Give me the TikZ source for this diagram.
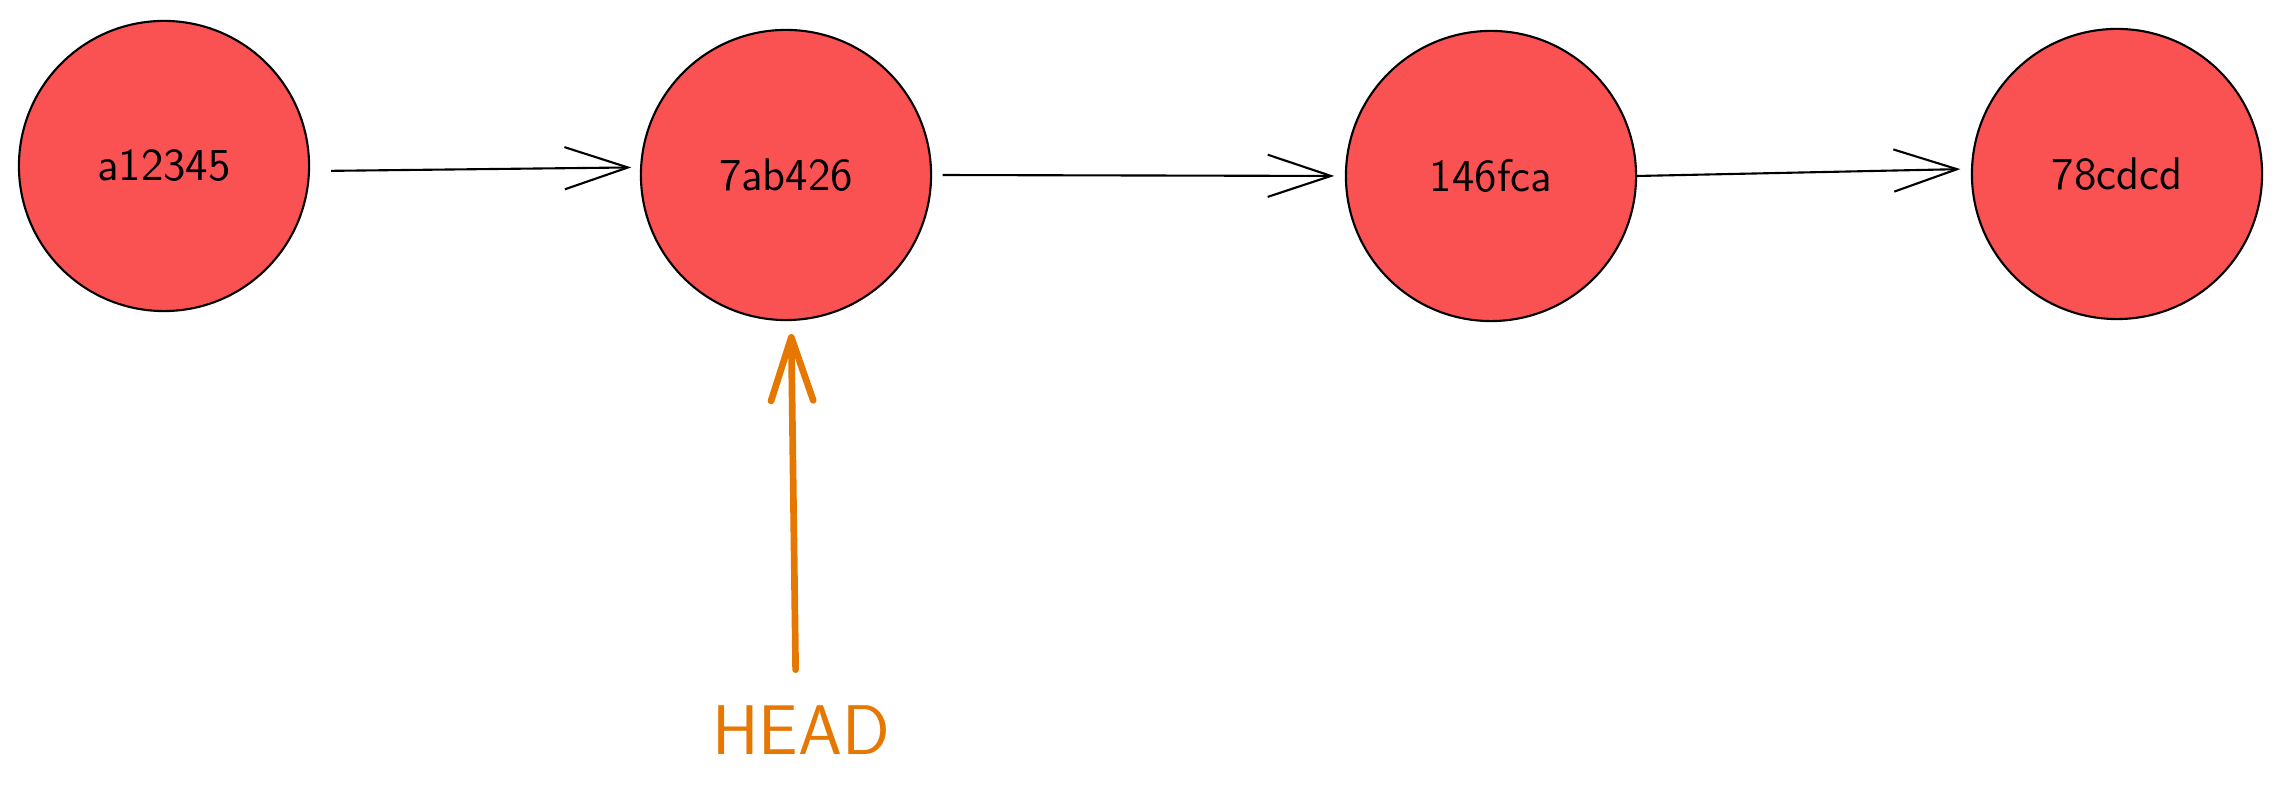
\documentclass[tikz,border=0pt]{standalone}
\usepackage{tikz}
\usetikzlibrary{arrows.meta}

\definecolor{commitred}{RGB}{250,82,82}
\definecolor{headorange}{RGB}{230,119,0}

\begin{document}
\begin{tikzpicture}[x=0.01cm, y=-0.01cm,
    commit/.style={circle, draw=black, line width=0.6pt, fill=commitred,
      minimum size=2.9cm, inner sep=0pt,
      font=\sffamily\fontsize{13}{15}\selectfont},
    link/.style={line width=0.6pt,
      -{Straight Barb[length=18pt,width=12pt,line width=0.6pt]}},
    headptr/.style={line width=1.9pt, headorange, line cap=round,
      -{Straight Barb[length=18pt,width=12pt,line width=1.9pt,round]}}]
\useasboundingbox (0,0) rectangle (2281,801);
% commits
    \node[commit] (a12345) at (164,166)  {a12345};
    \node[commit] (7ab426) at (786,175)  {7ab426};
    \node[commit] (146fca) at (1491,176) {146fca};
    \node[commit] (78cdcd) at (2117,174) {78cdcd};
% links between commits
    \draw[link, shorten <=6pt, shorten >=2.5pt] (a12345.-2) -- (7ab426.177);
    \draw[link, shorten <=3pt, shorten >=3pt] (7ab426.east) -- (146fca.west);
    \draw[link, shorten >=3pt] (146fca.east) -- (78cdcd.178);
% HEAD pointer
    \node[headorange, inner sep=0pt, font=\sffamily\fontsize{20}{24}\selectfont] (head) at (801,730) {HEAD};
    \draw[headptr, shorten <=10pt, shorten >=3.7pt] ([xshift=-1.4pt]head.north) -- (7ab426.-88);
\end{tikzpicture}
\end{document}
